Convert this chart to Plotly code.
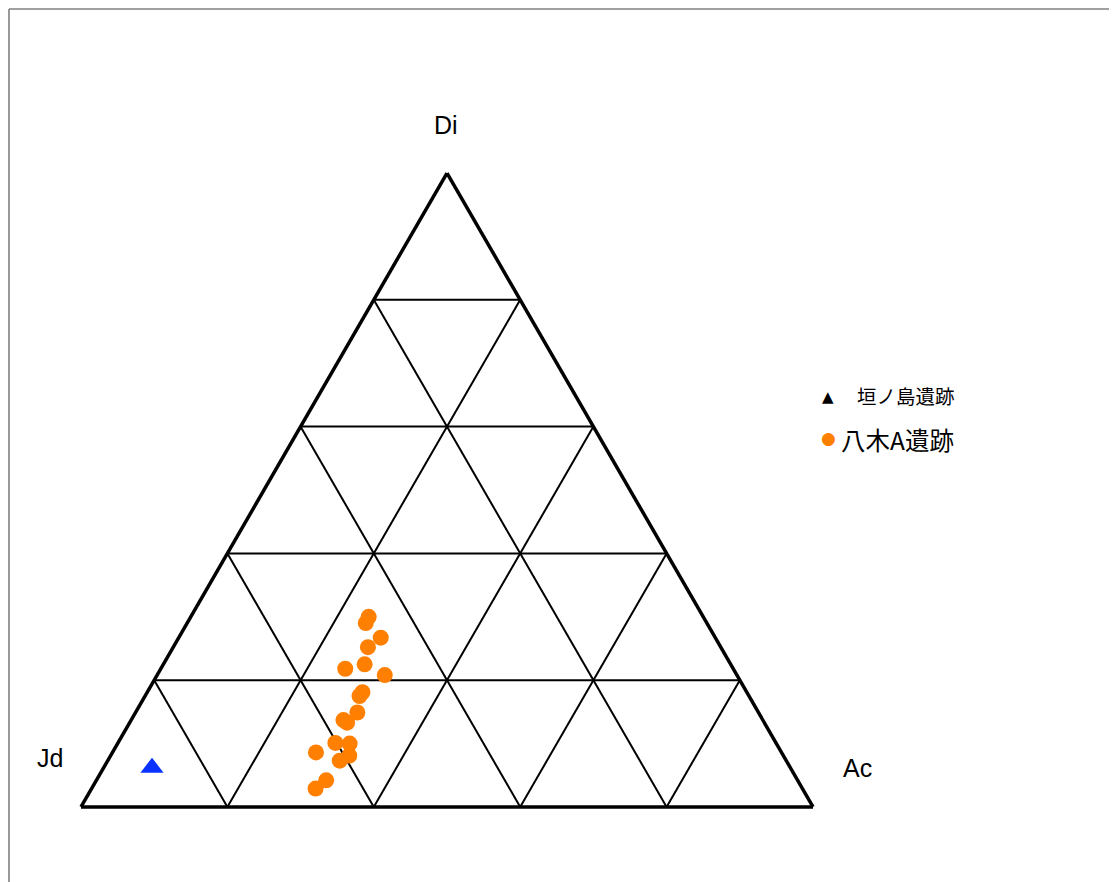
import plotly.graph_objects as go

# --- data (percent: Di, Jd, Ac) ---
kakinoshima_di = [6.2]
kakinoshima_jd = [87.2]
kakinoshima_ac = [6.6]

yagi_di = [30.0, 29.0, 26.7, 25.2, 21.8, 22.5, 20.8, 18.1, 17.5, 14.9,
           13.7, 13.3, 10.1, 10.0, 8.6, 8.1, 7.3, 4.2, 2.9]
yagi_jd = [45.7, 46.6, 45.7, 48.2, 53.0, 50.0, 48.1, 52.5, 53.2, 54.8,
           57.3, 57.0, 60.2, 58.3, 63.6, 59.3, 61.0, 64.4, 66.5]
yagi_ac = [24.3, 24.4, 27.6, 26.6, 25.2, 27.5, 31.1, 29.4, 29.3, 30.3,
           29.0, 29.7, 29.7, 31.7, 27.8, 32.6, 31.7, 31.4, 30.6]

# page body adds an 8px margin, so the figure is 8px smaller and positions shift
OFF = 8
W, H = 1117 - OFF, 882 - OFF


def px(x):
    return (x - OFF) / W


def py(y):
    return 1 - (y - OFF) / H


fig = go.Figure()

fig.add_trace(go.Scatterternary(
    a=kakinoshima_di, b=kakinoshima_jd, c=kakinoshima_ac,
    mode="markers", name="垣ノ島遺跡",
    marker=dict(symbol="triangle-up", size=20, color="#0a32ff"),
    showlegend=False,
))
fig.add_trace(go.Scatterternary(
    a=yagi_di, b=yagi_jd, c=yagi_ac,
    mode="markers", name="八木A遺跡",
    marker=dict(symbol="circle", size=16, color="#ff7f00"),
    showlegend=False,
))

axis_style = dict(
    min=0, tick0=0, dtick=20,
    showticklabels=False, ticks="",
    showgrid=True, gridcolor="black", gridwidth=1.6,
    showline=True, linecolor="black", linewidth=3.5,
    title=dict(text=""),
)

fig.update_layout(
    width=W, height=H,
    margin=dict(l=0, r=0, t=0, b=0),
    paper_bgcolor="white",
    showlegend=False,
    ternary=dict(
        sum=100,
        bgcolor="white",
        domain=dict(x=[px(81), px(813)], y=[py(807), py(173)]),
        aaxis=axis_style,
        baxis=axis_style,
        caxis=axis_style,
    ),
    font=dict(family="Liberation Sans, Arial, sans-serif", color="black"),
)

# vertex labels
lab_font = dict(family="Liberation Sans, Arial, sans-serif", size=25, color="black")
for txt, x, y in [("Di", 446, 125), ("Jd", 50, 758), ("Ac", 857, 768)]:
    fig.add_annotation(text=txt, x=px(x), y=py(y), xref="paper", yref="paper",
                       xanchor="center", yanchor="middle", showarrow=False, font=lab_font)

# legend
jp = "Noto Sans CJK JP"
fig.add_annotation(text="▲", x=px(828), y=py(397), xref="paper", yref="paper",
                   xanchor="center", yanchor="middle", showarrow=False,
                   font=dict(family="DejaVu Sans", size=15, color="black"))
fig.add_annotation(text="垣ノ島遺跡", x=px(855), y=py(395), xref="paper", yref="paper",
                   xanchor="left", yanchor="middle", showarrow=False,
                   font=dict(family=jp, size=19.5, color="black"))
fig.add_annotation(text="●", x=px(828), y=py(438), xref="paper", yref="paper",
                   xanchor="center", yanchor="middle", showarrow=False,
                   font=dict(family="DejaVu Sans", size=17, color="#ff7f00"))
fig.add_annotation(text="八木A遺跡", x=px(839), y=py(439), xref="paper", yref="paper",
                   xanchor="left", yanchor="middle", showarrow=False,
                   font=dict(family=jp, size=24.5, color="black"))

# frame lines (left and top)
fig.add_shape(type="line", xref="paper", yref="paper", x0=px(9), x1=px(9), y0=0, y1=py(9),
              line=dict(color="#808080", width=1.6))
fig.add_shape(type="line", xref="paper", yref="paper", x0=px(9), x1=1, y0=py(9), y1=py(9),
              line=dict(color="#808080", width=1.6))

fig.write_html("out.html")
